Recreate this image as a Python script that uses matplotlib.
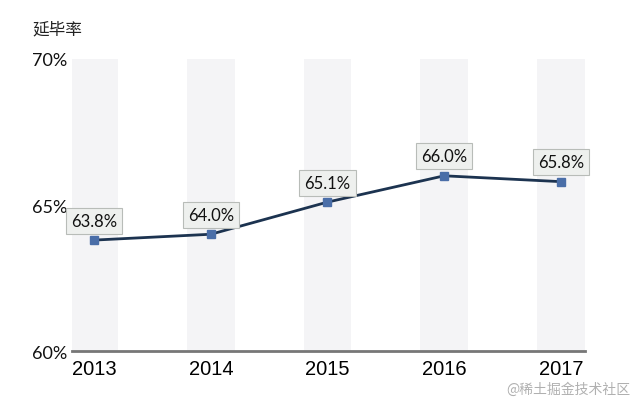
import matplotlib.pyplot as plt

plt.rcParams['font.family'] = ['Noto Sans CJK SC', 'DejaVu Sans']

# data
years = ['2013', '2014', '2015', '2016', '2017']
rates = [63.8, 64.0, 65.1, 66.0, 65.8]
y_ticks = [60, 65, 70]
y_labels = ['60%', '65%', '70%']

fig = plt.figure(figsize=(6.4, 4.02), dpi=100)
ax = fig.add_axes([0.1125, 0.124, 0.802, 0.727])

x = range(len(years))

# light grey background columns behind each year
ax.bar(x, [70 - 60] * len(years), bottom=60, width=0.41, color='#f4f4f6', zorder=0)

# the line with square markers
ax.plot(x, rates, color='#1c3350', linewidth=2, marker='s', markersize=6,
        markerfacecolor='#4a6ea8', markeredgecolor='#4a6ea8', zorder=3)

# value labels in little boxes
for i, v in enumerate(rates):
    ax.annotate('%.1f%%' % v, (i, v), xytext=(0, 14), textcoords='offset points',
                ha='center', va='center', fontsize=12, color='#111111',
                family='Lato',
                bbox=dict(boxstyle='square,pad=0.3', facecolor='#eef0ee',
                          edgecolor='#b8bcb8', linewidth=0.8))

ax.set_xlim(-0.19, 4.21)
ax.set_ylim(60, 70)
ax.set_xticks(list(x))
ax.set_xticklabels(years, fontsize=14.5, color='#000000', family='Liberation Sans')
ax.set_yticks(y_ticks)
ax.set_yticklabels(y_labels, fontsize=13, color='#111111', family='Lato')
ax.tick_params(axis='y', length=0, pad=29)
ax.tick_params(axis='x', length=0, pad=6)
for lbl in ax.get_yticklabels():
    lbl.set_horizontalalignment('left')

for s in ['top', 'right', 'left']:
    ax.spines[s].set_visible(False)
ax.spines['bottom'].set_color('#777777')
ax.spines['bottom'].set_linewidth(2)

fig.text(0.05, 0.925, '延毕率', fontsize=12, color='#222222', va='center')
fig.text(0.985, 0.03, '@稀土掘金技术社区', fontsize=10, color='#b0b0b0',
         ha='right', va='center')

plt.savefig('out.png')
